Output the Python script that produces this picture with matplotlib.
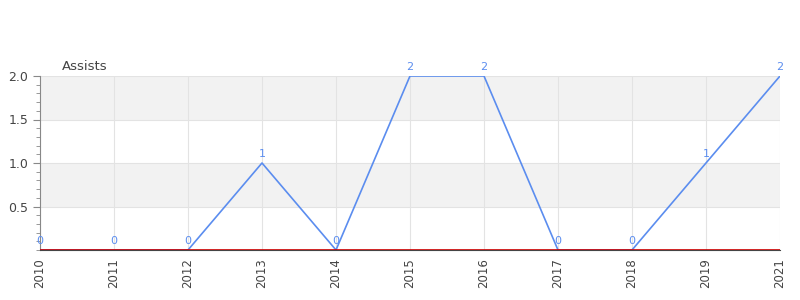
import matplotlib.pyplot as plt
from matplotlib.ticker import MultipleLocator

years = ['2010', '2011', '2012', '2013', '2014', '2015', '2016', '2017', '2018', '2019', '2021']
assists = [0, 0, 0, 1, 0, 2, 2, 0, 0, 1, 2]
y_ticks = [0.5, 1.0, 1.5, 2.0]
bands = [(0.5, 1.0), (1.5, 2.0)]

line_color = '#5b8def'
text_color = '#444444'

fig = plt.figure(figsize=(8, 3), dpi=100)
ax = fig.add_axes([0.05, 1 - 250 / 300, 0.925, (250 - 76) / 300])

x = list(range(len(years)))

# alternating bands
for lo, hi in bands:
    ax.axhspan(lo, hi, color='#f2f2f2', zorder=0, lw=0)

ax.grid(True, which='major', color='#e3e3e3', lw=0.8, zorder=1)
ax.set_axisbelow(True)

ax.plot(x, assists, color=line_color, lw=1.2, zorder=3)
ax.axhline(0, color='#cc0000', lw=1.2, zorder=4)

for xi, v in zip(x, assists):
    ax.annotate(str(v), (xi, v), xytext=(0, 3), textcoords='offset points',
                ha='center', va='bottom', fontsize=8, color=line_color, zorder=5)

ax.set_xlim(0, len(years) - 1)
ax.set_ylim(0, 2)
ax.set_xticks(x)
ax.set_xticklabels(years, rotation=90, fontsize=8.5, color=text_color)
ax.set_yticks(y_ticks)
ax.set_yticklabels([f'{t:.1f}' for t in y_ticks], fontsize=9, color=text_color)
ax.yaxis.set_minor_locator(MultipleLocator(0.1))
ax.tick_params(axis='y', which='major', length=5, color='#888888')
ax.tick_params(axis='y', which='minor', length=3, color='#888888')
ax.tick_params(axis='x', length=0, pad=6)

for s in ['top', 'right']:
    ax.spines[s].set_visible(False)
ax.spines['left'].set_color('#888888')
ax.spines['bottom'].set_color('#444444')
ax.spines['bottom'].set_zorder(3.5)

fig.text(62 / 800, 1 - 66 / 300, 'Assists', fontsize=9.5, color=text_color,
         ha='left', va='center')

fig.savefig('out.png', dpi=100)
